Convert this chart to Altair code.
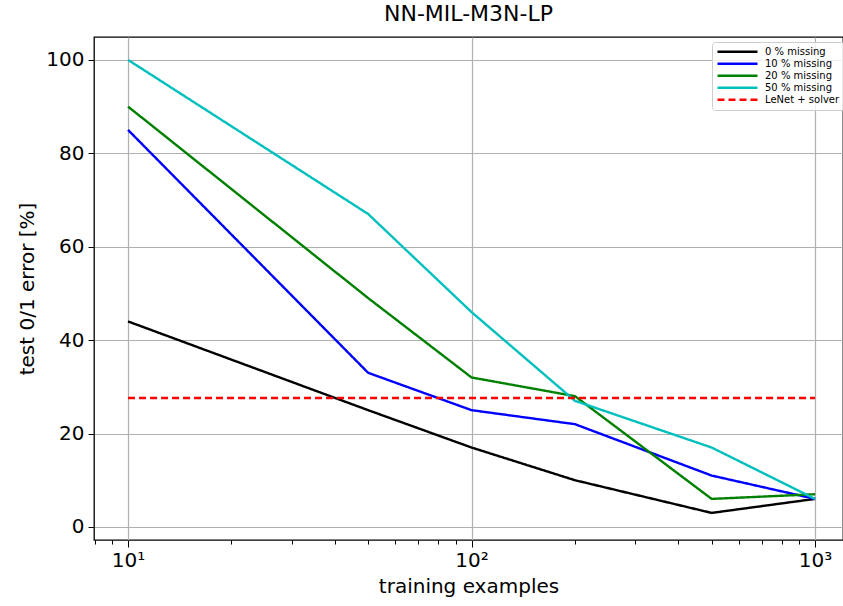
import altair as alt
import pandas as pd

x_vals = [10, 50, 100, 200, 500, 1000]
err_0 = [44, 25, 17, 10, 3, 6]
err_10 = [85, 33, 25, 22, 11, 6]
err_20 = [90, 49, 32, 28, 6, 7]
err_50 = [100, 67, 46, 27, 17, 6]
lenet_x = [10, 1000]
lenet_y = [27.6, 27.6]

series_names = ["0 % missing", "10 % missing", "20 % missing", "50 % missing", "LeNet + solver"]
series_colors = ["#000000", "#0000ff", "#008000", "#00bfbf", "#ff0000"]
series_dash = [[1, 0], [1, 0], [1, 0], [1, 0], [7, 4]]

rows = []
for name, ys in zip(series_names[:4], [err_0, err_10, err_20, err_50]):
    for xv, yv in zip(x_vals, ys):
        rows.append({"x": xv, "y": yv, "series": name})
for xv, yv in zip(lenet_x, lenet_y):
    rows.append({"x": xv, "y": yv, "series": series_names[4]})
df = pd.DataFrame(rows)

minor_ticks = [8, 9, 20, 30, 40, 50, 60, 70, 80, 90, 200, 300, 400, 500, 600, 700, 800, 900]

FONT = "DejaVu Sans"
xscale = alt.Scale(type="log", domain=[7.96, 1206], nice=False)
yscale = alt.Scale(domain=[-2.8, 104.9], nice=False, zero=False)

legend_kw = dict(title=None, orient="none", legendX=618, legendY=5,
                 symbolType="stroke", symbolSize=1600, symbolStrokeWidth=2.5,
                 labelFontSize=10, labelFont=FONT, labelColor="#000",
                 rowPadding=0, clipHeight=11.5, padding=4, cornerRadius=3,
                 strokeColor="#cccccc", fillColor="rgba(255,255,255,0.8)",
                 labelOffset=6)

lines = alt.Chart(df).mark_line(strokeWidth=2.4, clip=True).encode(
    x=alt.X("x:Q", scale=xscale,
            axis=alt.Axis(values=[10, 100, 1000], title="training examples", orient="bottom",
                          labelExpr="datum.value == 10 ? '10¹' : datum.value == 100 ? '10²' : '10³'",
                          grid=True, gridColor="#b0b0b0", gridWidth=1.2,
                          tickSize=7, tickColor="#000", domain=False,
                          labelFontSize=20, labelFont=FONT, labelColor="#000", labelPadding=3,
                          titleFontSize=20, titleFont=FONT, titleFontWeight="normal",
                          titleColor="#000", titlePadding=6)),
    y=alt.Y("y:Q", scale=yscale,
            axis=alt.Axis(values=[0, 20, 40, 60, 80, 100], title="test 0/1 error [%]",
                          grid=True, gridColor="#b0b0b0", gridWidth=1.2,
                          tickSize=6, tickColor="#000", domain=False,
                          labelFontSize=20, labelFont=FONT, labelColor="#000", labelPadding=4,
                          titleFontSize=20, titleFont=FONT, titleFontWeight="normal",
                          titleColor="#000", titlePadding=8)),
    color=alt.Color("series:N", scale=alt.Scale(domain=series_names, range=series_colors),
                    legend=alt.Legend(**legend_kw)),
    strokeDash=alt.StrokeDash("series:N", scale=alt.Scale(domain=series_names, range=series_dash),
                              legend=alt.Legend(**legend_kw)),
)

minor = alt.Chart(pd.DataFrame({"x": minor_ticks})).mark_point(opacity=0).encode(
    x=alt.X("x:Q", scale=xscale,
            axis=alt.Axis(values=minor_ticks, orient="bottom", labels=False, title=None,
                          grid=False, tickSize=4, tickColor="#000", domain=False)),
)

chart = alt.layer(minor, lines).resolve_axis(x="independent").properties(
    width=749, height=503,
    background="white",
    title=alt.TitleParams("NN-MIL-M3N-LP", font=FONT, fontSize=22, fontWeight="normal",
                          color="#000", anchor="middle", offset=11),
    autosize=alt.AutoSizeParams(type="none"),
    padding={"left": 94, "top": 37, "right": 0, "bottom": 66},
).configure_view(stroke="#000000", strokeWidth=1.3)

chart.save("out.html", embed_options={"renderer": "svg", "actions": False})
